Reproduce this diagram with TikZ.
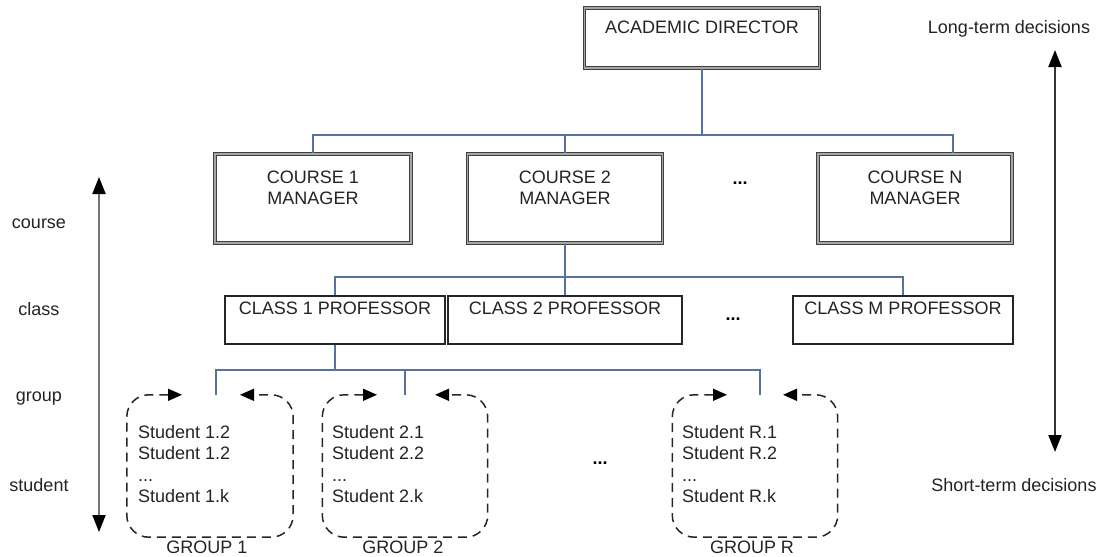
\documentclass[tikz,border=0pt]{standalone}
\usepackage{fontspec}
\setmainfont{Liberation Sans}
\usetikzlibrary{arrows.meta,calc}
\definecolor{conncol}{RGB}{88,112,158}
\definecolor{txtcol}{RGB}{35,35,35}
\newcommand\boxtxt[4]{\parbox[c][#2][t]{#1}{\centering\rule{0pt}{#3}#4}}
\begin{document}
\begin{tikzpicture}[x=1pt,y=-1pt,
  every node/.style={font=\fontsize{18}{21}\selectfont, text=txtcol},
  dbox/.style={draw=black!75, line width=1.1pt, double=black!35, double distance=1.6pt, inner sep=0pt},
  sbox/.style={draw=black!85, line width=1.3pt, inner sep=0pt},
  conn/.style={draw=conncol, line width=1.5pt},
  grp/.style={inner sep=0pt, minimum height=142pt},
  gline/.style={draw=black!85, line width=1.5pt, dash pattern=on 9pt off 6pt, rounded corners=22pt,
     {Triangle[length=14pt,width=12pt,color=black]}-{Triangle[length=14pt,width=12pt,color=black]}},
  stud/.style={anchor=north west, inner sep=0pt, align=left, font=\fontsize{18}{21.5}\selectfont},
  glab/.style={anchor=base},
  lvl/.style={anchor=base},
  dots/.style={font=\fontsize{18}{21}\selectfont\bfseries, text=black},
  bigarr/.style={draw=black!55, line width=2pt,
     {Triangle[length=17pt,width=13pt,color=black]}-{Triangle[length=17pt,width=13pt,color=black]}}
]
\useasboundingbox (0,0) rectangle (1098,557);

% top level
\node[dbox] (dir) at (702,38) {\boxtxt{235pt}{60pt}{25pt}{ACADEMIC DIRECTOR}};

% course managers
\node[dbox] (c1) at (313,198.5) {\boxtxt{196pt}{89pt}{29pt}{COURSE 1\\MANAGER}};
\node[dbox] (c2) at (565,198.5) {\boxtxt{195pt}{89pt}{29pt}{COURSE 2\\MANAGER}};
\node[dbox] (cN) at (915,198.5) {\boxtxt{194pt}{89pt}{29pt}{COURSE N\\MANAGER}};
\node[dots] (e1) at (740,183) {...};

% class professors
\node[sbox] (cl1) at (335,320) {\boxtxt{220pt}{48pt}{18pt}{CLASS 1 PROFESSOR}};
\node[sbox] (cl2) at (565,320) {\boxtxt{234pt}{48pt}{18pt}{CLASS 2 PROFESSOR}};
\node[sbox] (clM) at (903,320) {\boxtxt{220pt}{48pt}{18pt}{CLASS M PROFESSOR}};
\node[dots] (e2) at (733,319) {...};

% groups
\node[grp, minimum width=166pt] (g1) at (210,466) {};
\node[grp, minimum width=165pt] (g2) at (405,466) {};
\node[grp, minimum width=165pt] (gR) at (755,466) {};
\node[dots] (e3) at (600,463) {...};

\draw[gline] ([xshift=-28pt]g1.north) -- (g1.north west) -- (g1.south west) -- (g1.south east) -- (g1.north east) -- ([xshift=30pt]g1.north);
\draw[gline] ([xshift=-28pt]g2.north) -- (g2.north west) -- (g2.south west) -- (g2.south east) -- (g2.north east) -- ([xshift=30pt]g2.north);
\draw[gline] ([xshift=-28pt]gR.north) -- (gR.north west) -- (gR.south west) -- (gR.south east) -- (gR.north east) -- ([xshift=28pt]gR.north);

\node[stud] (s1) at (138,425) {Student 1.2\\Student 1.2\\...\\Student 1.k};
\node[stud] (s2) at (332,425) {Student 2.1\\Student 2.2\\...\\Student 2.k};
\node[stud] (sR) at (682,425) {Student R.1\\Student R.2\\...\\Student R.k};

\node[glab] (l1) at (207,553) {GROUP 1};
\node[glab] (l2) at (403,553) {GROUP 2};
\node[glab] (lR) at (752,553) {GROUP R};

% connectors
\coordinate (bA) at (702,135);
\draw[conn] (dir.south) -- (bA);
\draw[conn] (bA) -| (c1.north);
\draw[conn] (bA) -| (c2.north);
\draw[conn] (bA) -| ([xshift=38pt]cN.north);

\coordinate (bB) at (565,277);
\draw[conn] (c2.south) -- (bB);
\draw[conn] (bB) -| (cl1.north);
\draw[conn] (bB) -- (cl2.north);
\draw[conn] (bB) -| (clM.north);

\coordinate (bC) at (335,370);
\draw[conn] (cl1.south) -- (bC);
\draw[conn] (bC) -| ([xshift=6pt]g1.north);
\draw[conn] (bC) -| (g2.north);
\draw[conn] (bC) -| ([xshift=5pt]gR.north);

% level axis (left)
\node[lvl] (lv1) at (39,228) {course};
\node[lvl] (lv2) at (39,315) {class};
\node[lvl] (lv3) at (39,401) {group};
\node[lvl] (lv4) at (39,491) {student};
\coordinate (la1) at (99,177);
\coordinate (la2) at (99,532);
\draw[bigarr] (la1) -- (la2);

% decision axis (right)
\node[lvl] (lt) at (1009,33) {Long-term decisions};
\node[lvl] (st) at (1014,491) {Short-term decisions};
\coordinate (ra1) at (1055,50);
\coordinate (ra2) at (1055,452);
\draw[bigarr, draw=black!80] (ra1) -- (ra2);
\end{tikzpicture}
\end{document}
